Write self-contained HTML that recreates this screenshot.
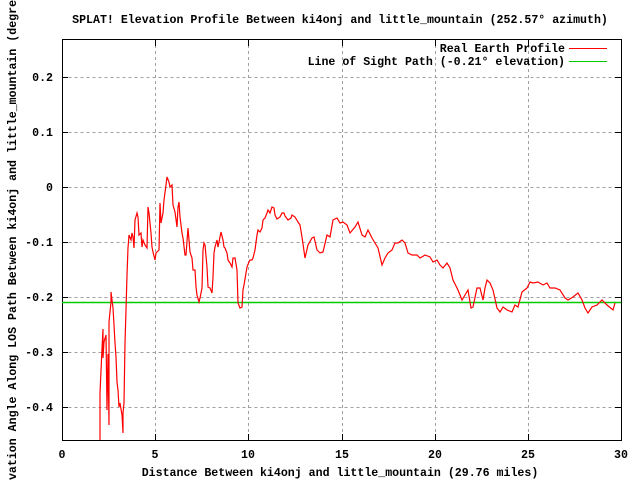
<!DOCTYPE html>
<html><head><style>body{margin:0;background:#fff}svg text{font-family:"Liberation Mono",monospace;font-size:11.6px;font-weight:bold;fill:#000}</style></head><body>
<svg width="640" height="480" xmlns="http://www.w3.org/2000/svg">
<rect width="640" height="480" fill="#fff"/>
<g stroke="#a0a0a0" stroke-dasharray="3,3" stroke-width="1">
<path d="M62.5 77.5H621M62.5 132.5H621M62.5 187.5H621M62.5 242.5H621M62.5 297.5H621M62.5 352.5H621M62.5 407.5H621"/>
<path d="M155.5 39V440M248.5 39V440M342.5 39V440M435.5 39V440M528.5 39V440"/>
</g>
<rect x="62.5" y="39.5" width="559" height="401" fill="none" stroke="#000"/>
<g stroke="#000">
<path d="M62 77.5h6M62 132.5h6M62 187.5h6M62 242.5h6M62 297.5h6M62 352.5h6M62 407.5h6"/>
<path d="M621 77.5h-6M621 132.5h-6M621 187.5h-6M621 242.5h-6M621 297.5h-6M621 352.5h-6M621 407.5h-6"/>
<path d="M155.5 440v-6M248.5 440v-6M342.5 440v-6M435.5 440v-6M528.5 440v-6M155.5 40v6M248.5 40v6M342.5 40v6M435.5 40v6M528.5 40v6"/>
</g>
<g text-anchor="end">
<text x="53" y="81">0.2</text><text x="53" y="136">0.1</text><text x="53" y="191">0</text><text x="53" y="246">-0.1</text><text x="53" y="301">-0.2</text><text x="53" y="356">-0.3</text><text x="53" y="411">-0.4</text>
</g>
<g text-anchor="middle">
<text x="62" y="458">0</text><text x="155" y="458">5</text><text x="248" y="458">10</text><text x="342" y="458">15</text><text x="435" y="458">20</text><text x="528" y="458">25</text><text x="621" y="458">30</text>
<text x="340" y="476">Distance Between ki4onj and little_mountain (29.76 miles)</text>
<text x="340" y="23">SPLAT! Elevation Profile Between ki4onj and little_mountain (252.57° azimuth)</text>
<text transform="translate(16,240) rotate(-90)">Elevation Angle Along LOS Path Between ki4onj and little_mountain (degrees)</text>
</g>
<g text-anchor="end">
<text x="565" y="52">Real Earth Profile</text>
<text x="565" y="65">Line of Sight Path (-0.21° elevation)</text>
</g>
<path d="M569 48.5h38" stroke="#f00"/>
<path d="M569 61.5h38" stroke="#0c0"/>
<path d="M62 302.5H621" stroke="#0c0" stroke-width="1.5"/>
<polyline fill="none" stroke="#f00" stroke-width="1.2" points="100,440 100,393 102,349 103,329 103,358 104,342 106,335 107,410 108,354 109,425 109,322 111,302 111,292 113,308 114,325 115,343 116,357 117,382 118,390 119,407 120,403 122,415 123,433 123,413 124,403 125,343 126,310 127,275 128,248 129,235 131,240 132,233 133,237 134,248 135,220 137,213 138,217 139,235 141,233 142,247 143,240 145,245 147,248 148,207 149,213 151,233 152,247 153,252 155,260 156,253 157,252 159,250 160,203 161,223 163,213 164,200 166,185 167,177 169,182 170,187 172,185 173,205 175,212 177,227 178,207 179,202 180,217 182,233 183,238 185,255 186,255 188,228 189,240 190,252 192,258 193,270 195,270 196,287 197,295 199,302 200,298 202,288 203,250 204,243 205,245 207,267 208,287 210,288 212,293 213,277 214,253 215,247 217,240 218,247 220,237 221,232 223,240 224,247 225,248 227,253 228,260 230,263 232,267 233,258 235,258 237,270 238,303 240,308 242,307 243,290 244,285 246,273 247,267 249,262 250,260 252,260 253,258 255,250 257,235 258,230 260,232 262,228 263,220 265,218 267,213 268,210 270,213 272,207 274,208 275,215 277,219 280,217 282,213 284,213 285,216 288,220 291,218 292,215 295,217 298,222 300,225 302,237 305,258 308,245 312,238 314,237 317,250 320,253 323,252 327,235 330,237 333,220 337,218 340,223 343,222 347,225 350,233 355,227 358,222 362,235 365,237 368,230 372,238 375,243 378,248 382,265 385,258 388,253 392,250 395,243 398,243 402,240 405,243 408,253 412,255 417,255 420,258 425,255 430,257 433,262 437,260 440,265 443,268 447,263 450,268 453,280 458,290 462,300 465,295 468,290 471,308 473,307 477,288 480,288 483,300 485,288 487,280 490,283 493,290 497,308 500,312 503,307 507,310 512,312 515,305 518,307 522,292 527,288 530,282 533,283 538,282 543,285 547,283 550,288 555,288 560,290 565,298 568,300 573,297 578,293 582,300 585,308 588,313 592,307 597,305 602,300 607,305 613,310 615,303"/>
</svg>
</body></html>
